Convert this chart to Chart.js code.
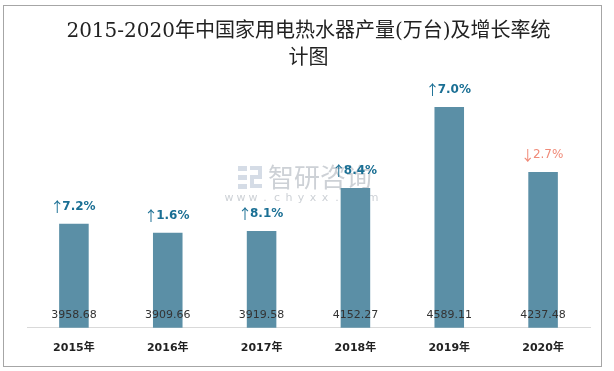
<!DOCTYPE html>
<html>
<head>
<meta charset="utf-8">
<script src="https://cdn.jsdelivr.net/npm/chart.js@4.4.0/dist/chart.umd.min.js"></script>
<style>
  html, body { margin: 0; padding: 0; background: #fff; }
  #wrap { width: 614px; height: 371px; position: relative; }
</style>
</head>
<body>
<div id="wrap"><canvas id="chart" width="614" height="371"></canvas></div>
<script>
// 数据
const years = ['2015年', '2016年', '2017年', '2018年', '2019年', '2020年'];
const output = [3958.68, 3909.66, 3919.58, 4152.27, 4589.11, 4237.48];
const growth = [7.2, 1.6, 8.1, 8.4, 7.0, -2.7];
const growthUp = [true, true, true, true, true, false];

// 边框 + 水印
const framePlugin = {
    id: 'frame',
    beforeDraw(chart) {
        const ctx = chart.ctx;
        ctx.save();
        ctx.strokeStyle = '#a6a6a6';
        ctx.lineWidth = 1;
        ctx.strokeRect(3.5, 5.5, 598, 361);

        // 水印
        ctx.fillStyle = '#cdd1d6';
        ctx.font = '26px "Noto Sans CJK SC"';
        ctx.textBaseline = 'middle';
        ctx.textAlign = 'left';
        ctx.fillText('智研咨询', 268, 177);
        ctx.font = '11px "DejaVu Sans"';
        ctx.textAlign = 'center';
        const site = 'www.chyxx.com';
        for (let i = 0; i < site.length; i++) {
            ctx.fillText(site[i], 229 + i * 12, 198);
        }
        // logo
        ctx.fillStyle = '#d5dce6';
        ctx.fillRect(238, 166, 9, 5);
        ctx.fillRect(238, 175, 9, 5);
        ctx.fillRect(238, 184, 9, 5);
        ctx.fillRect(250, 166, 12, 4);
        ctx.fillRect(258, 166, 4, 12);
        ctx.fillRect(250, 175, 12, 4);
        ctx.fillRect(250, 175, 4, 13);
        ctx.fillRect(250, 184, 12, 4);
        ctx.restore();
    }
};

// 数值标签 + 增长率
const labelPlugin = {
    id: 'labels',
    afterDatasetsDraw(chart) {
        const ctx = chart.ctx;
        const meta = chart.getDatasetMeta(0);
        const bottom = chart.chartArea.bottom;
        ctx.save();
        ctx.textBaseline = 'middle';
        meta.data.forEach(function(bar, i) {
            ctx.textAlign = 'center';
            ctx.fillStyle = '#333333';
            ctx.font = '11px "DejaVu Sans"';
            ctx.fillText(output[i].toFixed(2), bar.x, bottom - 13);

            // 箭头 + 百分比
            const arrow = growthUp[i] ? '↑' : '↓';
            const num = Math.abs(growth[i]).toFixed(1) + '%';
            const arrowFont = '14px "Noto Sans CJK SC"';
            const numFont = growthUp[i] ? 'bold 12px "DejaVu Sans"' : '12px "DejaVu Sans"';
            ctx.fillStyle = growthUp[i] ? '#1a6f94' : '#f08a78';
            ctx.font = arrowFont;
            const aw = ctx.measureText(arrow).width * 0.72;
            ctx.font = numFont;
            const nw = ctx.measureText(num).width;
            const x0 = bar.x - (aw + nw) / 2;
            const y = bar.y - 17;
            ctx.textAlign = 'left';
            ctx.font = arrowFont;
            ctx.fillText(arrow, x0 - 2, y);
            ctx.font = numFont;
            ctx.fillText(num, x0 + aw, y);
        });
        ctx.restore();
    }
};

new Chart(document.getElementById('chart'), {
    type: 'bar',
    data: {
        labels: years,
        datasets: [{
            data: output,
            backgroundColor: '#5b8fa6',
            borderWidth: 0,
            categoryPercentage: 1,
            barPercentage: 0.315
        }]
    },
    options: {
        responsive: false,
        animation: false,
        layout: { padding: { top: 6, left: 27, right: 24, bottom: 2 } },
        plugins: {
            legend: { display: false },
            tooltip: { enabled: false },
            title: {
                display: true,
                text: ['2015-2020年中国家用电热水器产量(万台)及增长率统', '计图'],
                color: '#222222',
                font: { family: '"DejaVu Serif", "Noto Sans CJK SC"', size: 20, weight: 'normal', lineHeight: 1.35 },
                padding: { top: 12, bottom: 2 }
            }
        },
        scales: {
            x: {
                grid: { display: false, drawTicks: false },
                border: { display: true, color: '#d9d9d9', width: 1 },
                ticks: {
                    color: '#222222',
                    padding: 14,
                    font: { family: '"DejaVu Sans", "Noto Sans CJK SC"', size: 11, weight: 'bold' }
                }
            },
            y: {
                display: false,
                min: 3397,
                max: 4767
            }
        }
    },
    plugins: [framePlugin, labelPlugin]
});
</script>
</body>
</html>
